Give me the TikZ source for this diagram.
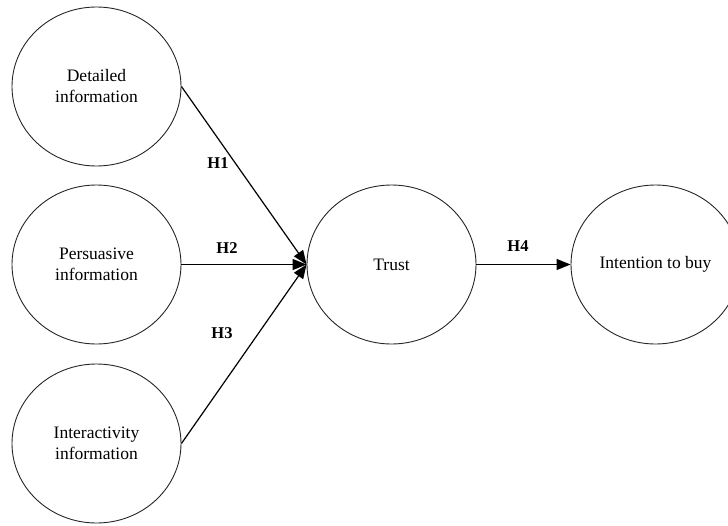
\documentclass[tikz,border=0pt]{standalone}
\usepackage{fontspec}
\setmainfont{Liberation Serif}
\usetikzlibrary{arrows.meta,shapes.geometric}
\begin{document}
\begin{tikzpicture}[x=1pt,y=-1pt,
  construct/.style={draw=black!85, ellipse, minimum width=169pt, minimum height=159pt,
    inner sep=0pt, line width=0.9pt, align=center, font=\fontsize{17.5}{21}\selectfont},
  hyp/.style={font=\fontsize{16.5}{20}\selectfont\bfseries, inner sep=0pt},
  link/.style={-{Triangle[length=14pt,width=11pt]}, line width=1.2pt}]
\useasboundingbox (0,0) rectangle (728,525);
\clip (0,0) rectangle (728,525);
\node[construct] (det) at (96.5,86.5) {Detailed\\information};
\node[construct] (per) at (96.5,264.5) {Persuasive\\information};
\node[construct] (int) at (96.5,443.5) {Interactivity\\information};
\node[construct] (tru) at (391.5,264.5) {Trust};
\node[construct] (itb) at (655.5,264.5) {Intention to buy};
\draw[link] (det.east) -- (tru.west);
\draw[link] (per.east) -- (tru.west);
\draw[link] (int.east) -- (tru.west);
\draw[link] (tru.east) -- (itb.west);
\node[hyp] (h1) at (218,163) {H1};
\node[hyp] (h2) at (227,248) {H2};
\node[hyp] (h3) at (222,333) {H3};
\node[hyp] (h4) at (518,246) {H4};
\end{tikzpicture}
\end{document}
